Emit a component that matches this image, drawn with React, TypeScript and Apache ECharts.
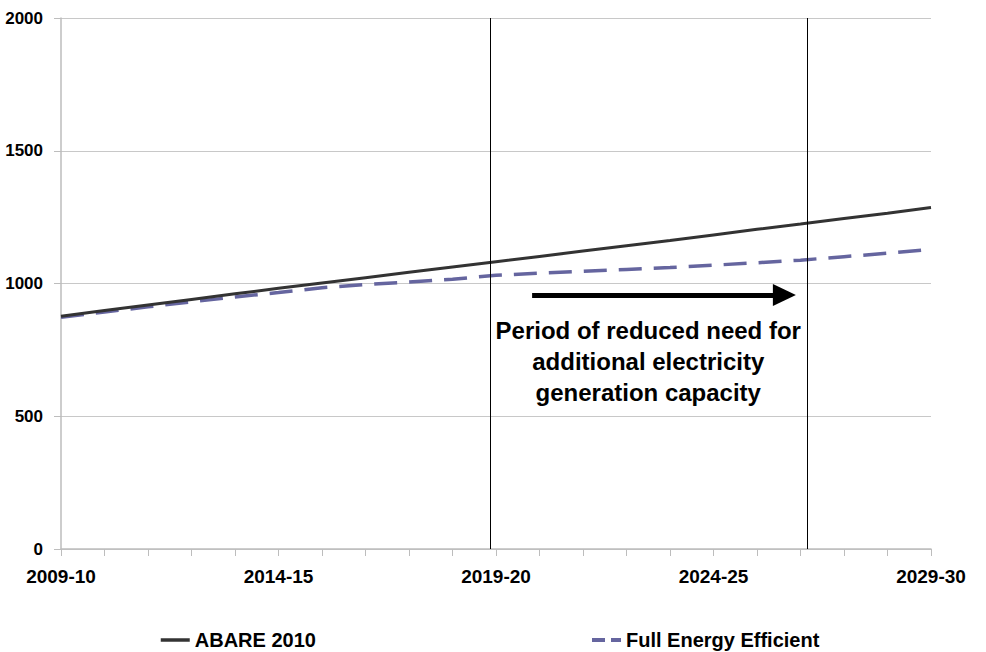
import React, { useEffect, useRef } from "react";
import * as echarts from "echarts";

const categories = [
  "2009-10", "2010-11", "2011-12", "2012-13", "2013-14", "2014-15", "2015-16",
  "2016-17", "2017-18", "2018-19", "2019-20", "2020-21", "2021-22", "2022-23",
  "2023-24", "2024-25", "2025-26", "2026-27", "2027-28", "2028-29", "2029-30",
];
const abare2010 = [
  877, 898, 919, 940, 961, 982, 1002, 1022, 1042, 1062, 1082,
  1102, 1122, 1142, 1162, 1183, 1204, 1224, 1245, 1265, 1286,
];
const fullEnergyEfficient = [
  873, 893, 912, 931, 949, 966, 984, 996, 1006, 1016, 1031,
  1039, 1046, 1053, 1060, 1069, 1078, 1088, 1101, 1114, 1129,
];
const yTicks = [0, 500, 1000, 1500, 2000];
const seriesNames = ["ABARE 2010", "Full Energy Efficient"];
// annotation positions in data units (category index, value)
const periodBounds = [9.86, 17.15];
const arrowSpan = [10.83, 16.63];
const arrowLevel = 957;
const annotationAnchor = [13.5, 883];
const annotationLines = [
  "Period of reduced need for",
  "additional electricity",
  "generation capacity",
];

const FONT = "'Liberation Sans', Arial, Helvetica, sans-serif";

export default function App() {
  const ref = useRef<HTMLDivElement>(null);
  useEffect(() => {
    if (!ref.current) return;
    const chart = echarts.init(ref.current, undefined, { renderer: "svg" });
    const toPairs = (arr: number[]) => arr.map((v, i) => [i, v]);
    const legendText = { fontFamily: FONT, fontWeight: "bold", fontSize: 20, color: "#000" };
    chart.setOption({
      animation: false,
      backgroundColor: "#ffffff",
      textStyle: { fontFamily: FONT },
      grid: {
        left: 61,
        right: 55,
        top: 18,
        bottom: 103,
        containLabel: false,
        outerBoundsMode: "none",
      },
      legend: [
        {
          data: [seriesNames[0]],
          left: 154,
          top: 625,
          itemWidth: 29,
          itemHeight: 14,
          itemStyle: { opacity: 0 },
          lineStyle: { width: 3.5 },
          textStyle: legendText,
          selectedMode: false,
        },
        {
          data: [seriesNames[1]],
          left: 585,
          top: 625,
          itemWidth: 29,
          itemHeight: 14,
          itemStyle: { opacity: 0 },
          lineStyle: { type: [13, 6], width: 4 },
          textStyle: legendText,
          selectedMode: false,
        },
      ],
      xAxis: {
        type: "value",
        min: 0,
        max: categories.length - 1,
        interval: 5,
        axisLine: { show: true, lineStyle: { color: "#bdbdbd", width: 1.5 } },
        axisTick: { show: true, length: 7, lineStyle: { color: "#bdbdbd" } },
        minorTick: { show: true, splitNumber: 5, length: 7, lineStyle: { color: "#bdbdbd" } },
        splitLine: { show: false },
        axisLabel: {
          formatter: (v: number) => categories[Math.round(v)] ?? "",
          fontFamily: FONT,
          fontWeight: "bold",
          fontSize: 19,
          color: "#000",
          margin: 18,
          showMinLabel: true,
          showMaxLabel: true,
        },
      },
      yAxis: {
        type: "value",
        min: yTicks[0],
        max: yTicks[yTicks.length - 1],
        interval: yTicks[1] - yTicks[0],
        axisLine: { show: true, lineStyle: { color: "#bdbdbd", width: 1.5 } },
        axisTick: { show: true, length: 7, lineStyle: { color: "#bdbdbd" } },
        splitLine: { show: true, lineStyle: { color: "#c8c8c8", width: 1 } },
        axisLabel: {
          formatter: (v: number) => String(v),
          fontFamily: FONT,
          fontWeight: "bold",
          fontSize: 17,
          color: "#000",
          margin: 18,
        },
      },
      series: [
        {
          name: seriesNames[1],
          type: "line",
          data: toPairs(fullEnergyEfficient),
          symbol: "none",
          showSymbol: false,
          color: "#65659f",
          lineStyle: { color: "#65659f", width: 3.5, type: [23, 12] },
          markLine: {
            silent: true,
            symbol: ["none", "triangle"],
            symbolSize: [22, 23],
            label: { show: false },
            lineStyle: { color: "#000", width: 5, type: "solid" },
            data: [
              [
                { coord: [arrowSpan[0], arrowLevel], symbol: "none" },
                { coord: [arrowSpan[1], arrowLevel], symbol: "triangle" },
              ],
            ],
          },
          z: 2,
        },
        {
          name: seriesNames[0],
          type: "line",
          data: toPairs(abare2010),
          symbol: "none",
          showSymbol: false,
          color: "#333333",
          lineStyle: { color: "#333333", width: 3 },
          markLine: {
            silent: true,
            symbol: ["none", "none"],
            label: { show: false },
            lineStyle: { color: "#000", width: 1, type: "solid" },
            data: periodBounds.map((x) => ({ xAxis: x })),
          },
          z: 3,
        },
      ],
    });
    const p = chart.convertToPixel({ gridIndex: 0 }, annotationAnchor) as number[];
    chart.setOption({
      graphic: [
        {
          type: "text",
          x: p[0],
          y: p[1],
          silent: true,
          style: {
            text: annotationLines.join("\n"),
            fontFamily: FONT,
            fontWeight: "bold",
            fontSize: 24,
            lineHeight: 31,
            fill: "#000",
            textAlign: "center",
            textVerticalAlign: "top",
          },
        },
      ],
    });
    return () => chart.dispose();
  }, []);
  return (
    <div
      ref={ref}
      style={{ position: "absolute", left: 0, top: 0, width: 986, height: 652 }}
    />
  );
}
